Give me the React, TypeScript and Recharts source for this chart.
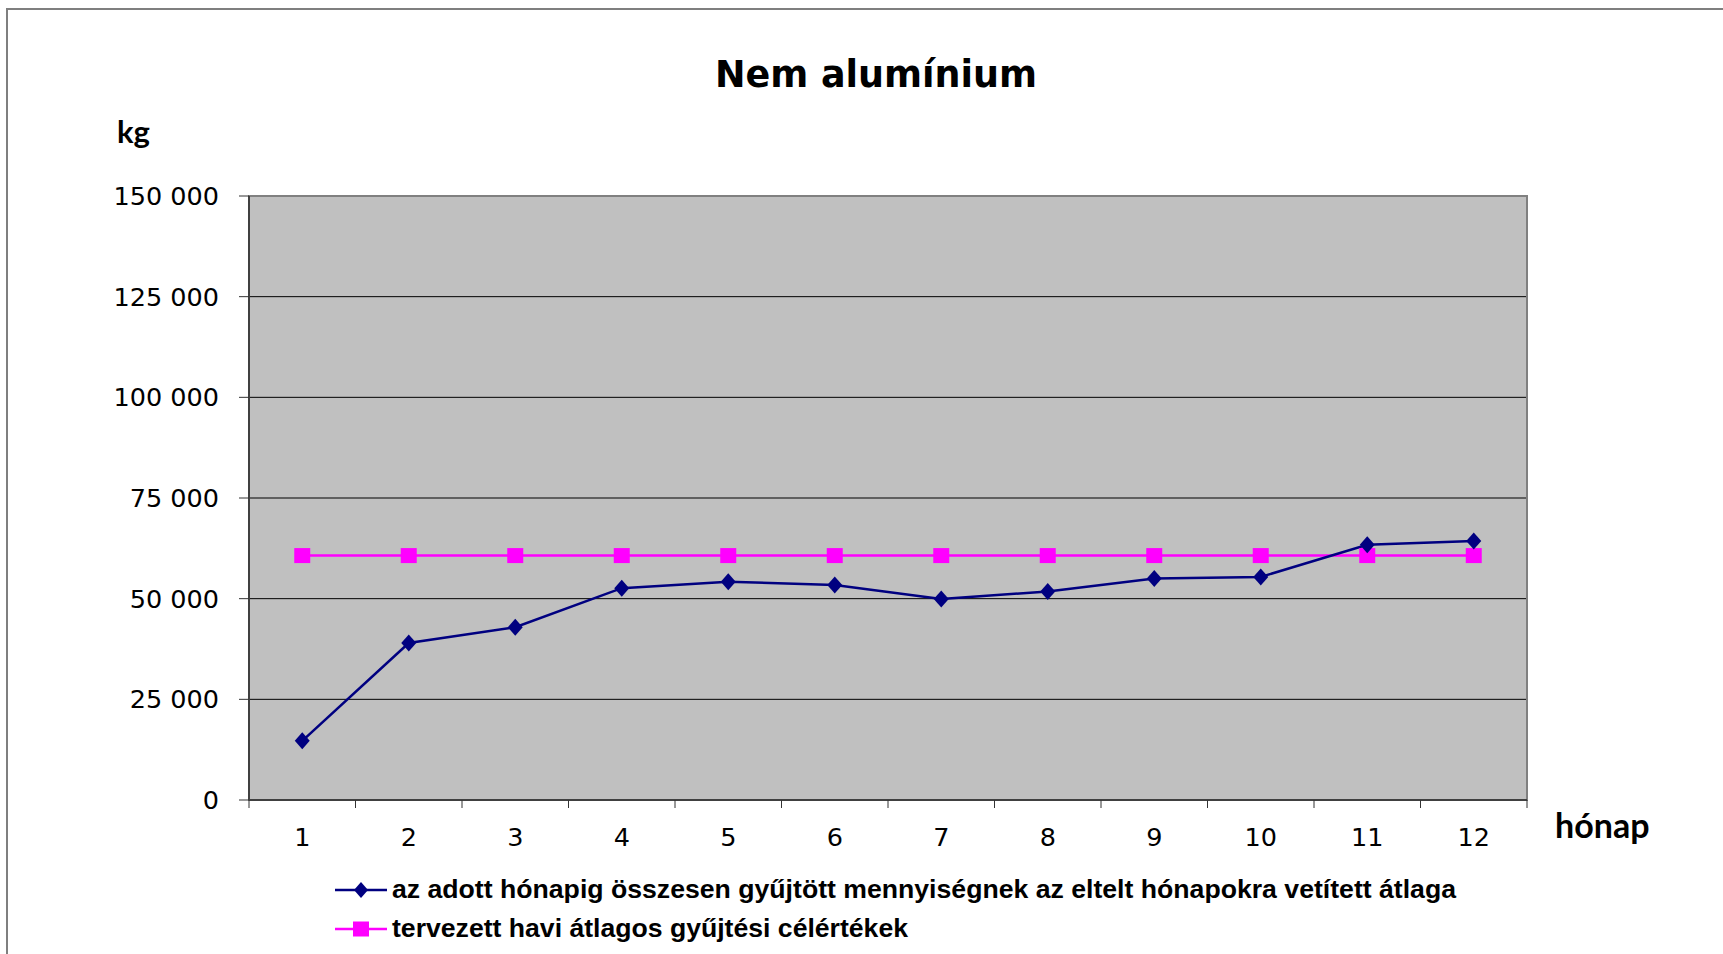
import {
  LineChart,
  Line,
  XAxis,
  YAxis,
  CartesianGrid,
  ReferenceArea,
  Legend
} from "recharts";

const months = ["1", "2", "3", "4", "5", "6", "7", "8", "9", "10", "11", "12"];
const collectedAvg = [14700, 39000, 42900, 52600, 54200, 53400, 49900, 51800, 55000, 55400, 63400, 64300];
const plannedAvg = [60700, 60700, 60700, 60700, 60700, 60700, 60700, 60700, 60700, 60700, 60700, 60700];
const yTicks = [0, 25000, 50000, 75000, 100000, 125000, 150000];

const collectedName =
  "az adott hónapig összesen gyűjtött mennyiségnek az eltelt hónapokra vetített átlaga";
const plannedName = "tervezett havi átlagos gyűjtési célértékek";

const data = months.map((m, i) => ({
  month: m,
  collected: collectedAvg[i],
  planned: plannedAvg[i]
}));

const W = 1723;
const H = 954;
const PLOT_LEFT = 249;
const PLOT_RIGHT = 1527;
const PLOT_TOP = 196;
const PLOT_BOTTOM = 800;
const BAND = (PLOT_RIGHT - PLOT_LEFT) / months.length;

const NAVY = "#000080";
const MAGENTA = "#ff00ff";
const axisFont = "'DejaVu Sans', Verdana, sans-serif";

const fmt = (v: number) => (v === 0 ? "0" : `${Math.round(v / 1000)} 000`);

function Diamond({ cx, cy }: any) {
  if (cx == null || cy == null) return null;
  return (
    <polygon
      points={`${cx},${cy - 8.5} ${cx + 7.5},${cy} ${cx},${cy + 8.5} ${cx - 7.5},${cy}`}
      fill={NAVY}
    />
  );
}

function Square({ cx, cy }: any) {
  if (cx == null || cy == null) return null;
  return <rect x={cx - 8} y={cy - 7.5} width={16} height={15} fill={MAGENTA} />;
}

function XTick({ x, y, payload, index }: any) {
  const left = x - BAND / 2;
  return (
    <g>
      <line x1={left} y1={y - 8} x2={left} y2={y} stroke="#333" strokeWidth={1} />
      {index === months.length - 1 && (
        <line x1={x + BAND / 2} y1={y - 8} x2={x + BAND / 2} y2={y} stroke="#333" strokeWidth={1} />
      )}
      <text
        x={x}
        y={y + 38}
        textAnchor="middle"
        fontFamily={axisFont}
        fontSize={25.5}
        fill="#000"
      >
        {payload.value}
      </text>
    </g>
  );
}

const legendWidths: Record<string, number> = {
  [collectedName]: 1064,
  [plannedName]: 516
};

function LegendBox({ payload }: any) {
  const items = payload || [];
  return (
    <svg width={1200} height={90} style={{ overflow: "visible" }}>
      {items.map((item: any, i: number) => {
        const cy = 21 + i * 39;
        const color = item.color;
        return (
          <g key={item.value}>
            <line x1={5} y1={cy} x2={57} y2={cy} stroke={color} strokeWidth={2.5} />
            {item.type === "diamond" ? (
              <polygon
                points={`31,${cy - 8} 38,${cy} 31,${cy + 8} 24,${cy}`}
                fill={color}
              />
            ) : (
              <rect x={23} y={cy - 7.5} width={16} height={15} fill={color} />
            )}
            <text
              x={62}
              y={cy + 8}
              fontFamily="'Liberation Sans', Arial, sans-serif"
              fontWeight="bold"
              fontSize={25}
              fill="#000"
              textLength={legendWidths[item.value]}
              lengthAdjust="spacingAndGlyphs"
            >
              {item.value}
            </text>
          </g>
        );
      })}
    </svg>
  );
}

export default function App() {
  return (
    <div
      style={{
        position: "absolute",
        left: 0,
        top: 0,
        width: W,
        height: H,
        background: "#fff",
        overflow: "hidden"
      }}
    >
      <div
        style={{
          position: "absolute",
          left: 6,
          top: 8,
          width: 1900,
          height: 1100,
          borderLeft: "2px solid #7f7f7f",
          borderTop: "2px solid #7f7f7f"
        }}
      />
      <div style={{ position: "absolute", left: 0, top: 0 }}>
        <LineChart
          width={W}
          height={H}
          data={data}
          margin={{
            top: PLOT_TOP,
            right: W - PLOT_RIGHT,
            left: PLOT_LEFT - 60,
            bottom: H - PLOT_BOTTOM - 60
          }}
        >
          <CartesianGrid
            vertical={false}
            stroke="#000"
            strokeWidth={1}
            fill="#c0c0c0"
            fillOpacity={1}
          />
          <ReferenceArea
            y1={0}
            y2={150000}
            fill="none"
            stroke="#808080"
            strokeWidth={2}
            ifOverflow="visible"
          />
          <XAxis
            dataKey="month"
            scale="band"
            height={60}
            interval={0}
            tickSize={8}
            tickMargin={0}
            tickLine={false}
            axisLine={{ stroke: "#404040", strokeWidth: 2 }}
            tick={<XTick />}
          />
          <YAxis
            width={60}
            domain={[0, 150000]}
            ticks={yTicks}
            interval={0}
            tickFormatter={fmt}
            tickSize={10}
            tickMargin={20}
            tickLine={{ stroke: "#333", strokeWidth: 1 }}
            axisLine={{ stroke: "#404040", strokeWidth: 2 }}
            tick={{ fontFamily: axisFont, fontSize: 25.5, fill: "#000" }}
          />
          <Legend
            layout="vertical"
            align="center"
            verticalAlign="middle"
            content={<LegendBox />}
            wrapperStyle={{ left: 330, top: 869, width: 1200, height: 90 }}
          />
          <Line
            type="linear"
            dataKey="planned"
            name={plannedName}
            stroke={MAGENTA}
            strokeWidth={2.5}
            dot={<Square />}
            activeDot={false}
            legendType="square"
            isAnimationActive={false}
          />
          <Line
            type="linear"
            dataKey="collected"
            name={collectedName}
            stroke={NAVY}
            strokeWidth={2.5}
            dot={<Diamond />}
            activeDot={false}
            legendType="diamond"
            isAnimationActive={false}
          />
        </LineChart>
      </div>
      <svg
        width={W}
        height={H}
        style={{ position: "absolute", left: 0, top: 0, pointerEvents: "none" }}
      >
        <text
          x={876}
          y={87}
          textAnchor="middle"
          fontFamily="'DejaVu Sans', Verdana, sans-serif"
          fontWeight="bold"
          fontSize={36.5}
          fill="#000"
        >
          Nem alumínium
        </text>
        <text
          x={117}
          y={143}
          fontFamily="Lato, 'Open Sans', sans-serif"
          fontWeight="bold"
          fontSize={31}
          fill="#000"
        >
          kg
        </text>
        <text
          x={1555}
          y={838}
          fontFamily="Lato, 'Open Sans', sans-serif"
          fontWeight="bold"
          fontSize={34}
          fill="#000"
        >
          hónap
        </text>
      </svg>
    </div>
  );
}
